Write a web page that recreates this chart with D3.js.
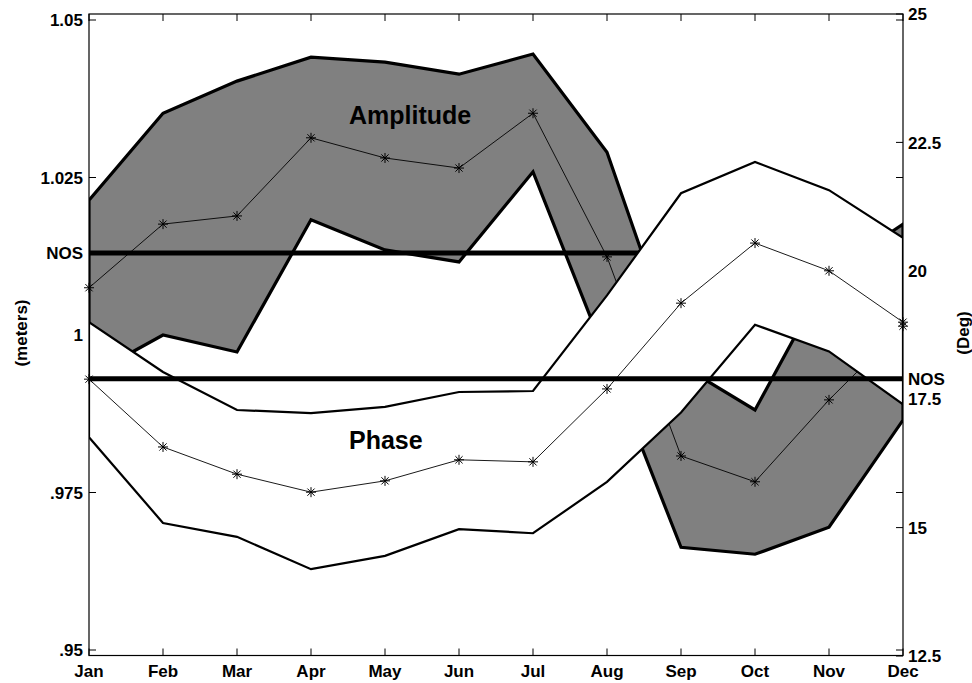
<!DOCTYPE html>
<html>
<head>
<meta charset="utf-8">
<script src="https://cdn.jsdelivr.net/npm/d3@7"></script>
<style>
  body { margin: 0; background: #fff; }
  svg text { font-family: "Liberation Sans", Arial, Helvetica, sans-serif; font-weight: bold; fill: #000; }
</style>
</head>
<body>
<svg id="chart" width="972" height="683"></svg>
<script>
// months on the x axis
var months = ["Jan","Feb","Mar","Apr","May","Jun","Jul","Aug","Sep","Oct","Nov","Dec"];

// amplitude (meters, left axis)
var ampMean  = [1.0075, 1.0176, 1.0189, 1.0313, 1.0281, 1.0265, 1.0352, 1.0124, 0.9808, 0.9767, 0.9897, 1.0014];
var ampUpper = [1.0214, 1.0352, 1.0403, 1.0441, 1.0433, 1.0414, 1.0446, 1.0290, 0.9952, 0.9881, 1.0097, 1.0176];
var ampLower = [0.9935, 1.0000, 0.9973, 1.0183, 1.0135, 1.0116, 1.0259, 0.9962, 0.9663, 0.9652, 0.9695, 0.9865];
var ampNOS = 1.013;

// phase (degrees, right axis)
var phaseMean  = [17.89, 16.57, 16.04, 15.69, 15.91, 16.32, 16.28, 17.70, 19.37, 20.54, 20.00, 19.00];
var phaseUpper = [19.00, 18.03, 17.29, 17.23, 17.35, 17.64, 17.66, 19.52, 21.51, 22.12, 21.57, 20.64];
var phaseLower = [16.76, 15.09, 14.82, 14.19, 14.45, 14.97, 14.89, 15.89, 17.24, 18.95, 18.43, 17.40];
var phaseNOS = 17.9;

// tick labels
var leftTicks = [0.95, 0.975, 1, 1.025, 1.05];
var leftTickLabels = [".95", ".975", "1", "1.025", "1.05"];
var rightTicks = [12.5, 15, 17.5, 20, 22.5, 25];
var rightTickLabels = ["12.5", "15", "17.5", "20", "22.5", "25"];

var box = { left: 89, right: 903, top: 14, bottom: 655.5 };
var tickLen = 7;

var svg = d3.select("#chart");

var x = d3.scalePoint().domain(months).range([box.left, box.right]);
var yAmp = d3.scaleLinear().domain([0.95, 1.05]).range([650, 20]);
var yPhase = d3.scaleLinear().domain([12.5, 25]).range([656, 14]);

svg.append("defs").append("clipPath").attr("id", "plotClip")
  .append("rect")
    .attr("x", box.left).attr("y", box.top)
    .attr("width", box.right - box.left).attr("height", box.bottom - box.top);

// ticks go underneath the patches, like the original
var ticks = svg.append("g").attr("stroke", "#000").attr("stroke-width", 1);

ticks.selectAll(".ltick").data(leftTicks).enter().append("line")
  .attr("x1", box.left).attr("x2", box.left + tickLen)
  .attr("y1", function(d){ return yAmp(d); }).attr("y2", function(d){ return yAmp(d); });

ticks.selectAll(".rtickAmp").data(leftTicks).enter().append("line")
  .attr("x1", box.right).attr("x2", box.right - tickLen)
  .attr("y1", function(d){ return yAmp(d); }).attr("y2", function(d){ return yAmp(d); });

ticks.selectAll(".rtick").data(rightTicks).enter().append("line")
  .attr("x1", box.right).attr("x2", box.right - tickLen)
  .attr("y1", function(d){ return yPhase(d); }).attr("y2", function(d){ return yPhase(d); });

ticks.selectAll(".btick").data(months).enter().append("line")
  .attr("x1", function(d){ return x(d); }).attr("x2", function(d){ return x(d); })
  .attr("y1", box.bottom).attr("y2", box.bottom - tickLen);

ticks.selectAll(".ttick").data(months).enter().append("line")
  .attr("x1", function(d){ return x(d); }).attr("x2", function(d){ return x(d); })
  .attr("y1", box.top).attr("y2", box.top + tickLen);

var plot = svg.append("g").attr("clip-path", "url(#plotClip)");

function bandPoints(upper, lower, yScale){
  var pts = months.map(function(m, i){ return [x(m), yScale(upper[i])]; });
  for (var i = months.length - 1; i >= 0; i--) {
    pts.push([x(months[i]), yScale(lower[i])]);
  }
  return pts;
}

var starPath = "M-5,0L5,0M0,-5L0,5M-3.6,-3.6L3.6,3.6M-3.6,3.6L3.6,-3.6";

function drawMean(values, yScale){
  var line = d3.line()
    .x(function(d, i){ return x(months[i]); })
    .y(function(d){ return yScale(d); });
  plot.append("path")
    .datum(values)
    .attr("d", line)
    .attr("fill", "none")
    .attr("stroke", "#000")
    .attr("stroke-width", 0.9);
  svg.append("g").selectAll("path")
    .data(values)
    .enter()
    .append("path")
      .attr("transform", function(d, i){ return "translate(" + x(months[i]) + "," + yScale(d) + ")"; })
      .attr("d", starPath)
      .attr("stroke", "#000")
      .attr("stroke-width", 1)
      .attr("fill", "none");
}

// amplitude band
plot.append("path")
  .attr("d", "M" + bandPoints(ampUpper, ampLower, yAmp).join("L") + "Z")
  .attr("fill", "#808080")
  .attr("stroke", "#000")
  .attr("stroke-width", 3.2)
  .attr("stroke-linejoin", "miter");

drawMean(ampMean, yAmp);

plot.append("line")
  .attr("x1", box.left).attr("x2", box.right)
  .attr("y1", yAmp(ampNOS)).attr("y2", yAmp(ampNOS))
  .attr("stroke", "#000").attr("stroke-width", 5);

// phase band on top
plot.append("path")
  .attr("d", "M" + bandPoints(phaseUpper, phaseLower, yPhase).join("L") + "Z")
  .attr("fill", "#fff")
  .attr("stroke", "#000")
  .attr("stroke-width", 2.2)
  .attr("stroke-linejoin", "miter");

drawMean(phaseMean, yPhase);

plot.append("line")
  .attr("x1", box.left).attr("x2", box.right)
  .attr("y1", yPhase(phaseNOS)).attr("y2", yPhase(phaseNOS))
  .attr("stroke", "#000").attr("stroke-width", 5);

// box
svg.append("rect")
  .attr("x", box.left).attr("y", box.top)
  .attr("width", box.right - box.left).attr("height", box.bottom - box.top)
  .attr("fill", "none").attr("stroke", "#000").attr("stroke-width", 1.2);

// tick labels
svg.append("g").selectAll("text").data(leftTicks).enter().append("text")
  .attr("x", 83).attr("y", function(d){ return yAmp(d); })
  .attr("dy", "0.36em")
  .attr("text-anchor", "end")
  .attr("font-size", "17px")
  .text(function(d, i){ return leftTickLabels[i]; });

svg.append("text")
  .attr("x", 83).attr("y", yAmp(ampNOS)).attr("dy", "0.36em")
  .attr("text-anchor", "end").attr("font-size", "17px")
  .text("NOS");

svg.append("g").selectAll("text").data(rightTicks).enter().append("text")
  .attr("x", 908).attr("y", function(d){ return yPhase(d); })
  .attr("dy", "0.36em")
  .attr("font-size", "17px")
  .text(function(d, i){ return rightTickLabels[i]; });

svg.append("text")
  .attr("x", 908).attr("y", yPhase(phaseNOS)).attr("dy", "0.36em")
  .attr("font-size", "17px")
  .text("NOS");

svg.append("g").selectAll("text").data(months).enter().append("text")
  .attr("x", function(d){ return x(d); }).attr("y", 677)
  .attr("text-anchor", "middle")
  .attr("font-size", "17px")
  .text(function(d){ return d; });

// axis titles
svg.append("text")
  .attr("transform", "translate(27,333) rotate(-90)")
  .attr("text-anchor", "middle").attr("font-size", "17px")
  .text("(meters)");

svg.append("text")
  .attr("transform", "translate(969,333) rotate(-90)")
  .attr("text-anchor", "middle").attr("font-size", "17px")
  .text("(Deg)");

// band names
svg.append("text")
  .attr("x", 349).attr("y", 124).attr("font-size", "25px")
  .text("Amplitude");

svg.append("text")
  .attr("x", 349).attr("y", 449).attr("font-size", "25px")
  .text("Phase");
</script>
</body>
</html>
